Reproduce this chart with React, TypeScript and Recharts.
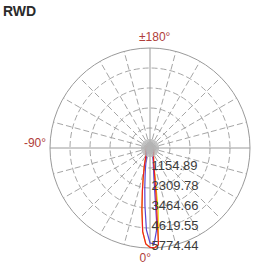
import React from 'react';
import { RadarChart, Radar, PolarGrid, PolarAngleAxis, PolarRadiusAxis } from 'recharts';

const title = 'RWD';
// gamma angles (degrees), 0° = downward, 2.5° step
const angles: number[] = Array.from({ length: 144 }, (_, i) => -180 + i * 2.5);

// intensities (cd), -180 .. 177.5 step 2.5
const redValues = [
  115, 118, 121, 121, 124, 127, 130, 130, 133, 136, 139, 142,
  144, 147, 150, 153, 156, 159, 162, 165, 168, 171, 173, 176,
  179, 182, 185, 188, 191, 196, 199, 202, 205, 208, 214, 220,
  225, 231, 237, 243, 248, 254, 260, 266, 272, 277, 283, 289,
  300, 312, 323, 335, 346, 358, 375, 392, 410, 427, 450, 485,
  520, 600, 693, 866, 1097, 1386, 1848, 2541, 3580, 4850, 5540, 5740,
  5774, 5600, 2598, 1501, 1039, 808, 693, 606, 520, 475, 440, 410,
  390, 370, 352, 335, 318, 300, 289, 278, 266, 254, 243, 237,
  231, 225, 220, 214, 208, 202, 199, 196, 191, 188, 185, 182,
  179, 176, 173, 170, 167, 164, 161, 158, 156, 153, 150, 147,
  144, 142, 139, 136, 133, 130, 130, 127, 124, 124, 121, 121,
  118, 118, 118, 115, 115, 115, 115, 115, 115, 115, 115, 115,
];

const blueValues = [
  104, 104, 107, 107, 110, 113, 113, 116, 118, 121, 124, 127,
  130, 133, 136, 139, 142, 144, 147, 150, 153, 156, 159, 162,
  165, 168, 170, 173, 176, 179, 182, 185, 188, 191, 194, 199,
  202, 208, 214, 220, 225, 231, 237, 243, 248, 254, 260, 266,
  266, 272, 280, 289, 300, 306, 318, 329, 341, 352, 364, 381,
  404, 462, 520, 635, 751, 924, 1213, 1617, 2310, 3349, 4735, 5486,
  5543, 4619, 1732, 1155, 866, 693, 577, 520, 462, 433, 404, 381,
  358, 341, 323, 312, 300, 289, 277, 266, 254, 243, 237, 231,
  225, 220, 214, 208, 202, 196, 191, 188, 185, 182, 179, 176,
  173, 170, 167, 164, 161, 158, 156, 153, 150, 147, 144, 142,
  139, 136, 133, 130, 127, 124, 121, 118, 116, 113, 113, 110,
  110, 107, 107, 107, 104, 104, 104, 104, 104, 104, 104, 104,
];

const yellowValues = [
  115, 118, 121, 121, 124, 127, 130, 130, 133, 136, 139, 142,
  144, 147, 150, 153, 156, 159, 162, 165, 168, 171, 173, 176,
  179, 182, 185, 188, 191, 196, 199, 202, 205, 208, 214, 220,
  225, 231, 237, 243, 248, 254, 260, 266, 272, 277, 283, 289,
  300, 312, 323, 335, 346, 358, 375, 392, 410, 427, 450, 485,
  520, 600, 693, 866, 1097, 1386, 1848, 2541, 3580, 4850, 5540, 5740,
  5774, 5600, 3580, 1732, 1039, 808, 693, 606, 520, 475, 440, 410,
  390, 370, 352, 335, 318, 300, 289, 278, 266, 254, 243, 237,
  231, 225, 220, 214, 208, 202, 199, 196, 191, 188, 185, 182,
  179, 176, 173, 170, 167, 164, 161, 158, 156, 153, 150, 147,
  144, 142, 139, 136, 133, 130, 130, 127, 124, 124, 121, 121,
  118, 118, 118, 115, 115, 115, 115, 115, 115, 115, 115, 115,
];

const radiusTicks = [1154.89, 2309.78, 3464.66, 4619.55, 5774.44];
const angleLabels: Record<string, string> = { '-180': '±180°', '-90': '-90°', '0': '0°' };

const dashedAngles = [15, 30, 45, 60, 75, 105, 120, 135, 150, 165, 195, 210, 225, 240, 255, 285, 300, 315, 330, 345];
const solidAngles = [0, 90, 180, 270];
const starAngles: number[] = Array.from({ length: 72 }, (_, i) => i * 5);

const data = angles.map((a, i) => ({
  angle: a,
  red: redValues[i],
  blue: blueValues[i],
  yellow: yellowValues[i],
}));

const FONT = '"Liberation Sans", Arial, sans-serif';

const AngleTick = (props: any) => {
  const { x, y, payload } = props;
  const label = angleLabels[String(payload.value)];
  if (!label) return <g />;
  const v = Number(payload.value);
  let tx = x;
  let ty = y;
  let anchor: 'middle' | 'start' | 'end' = 'middle';
  if (v === -180) { ty = y - 3; }
  else if (v === -90) { tx = x + 4; anchor = 'end'; }
  else if (v === 0) { ty = y + 2; }
  return (
    <text x={tx} y={ty} textAnchor={anchor} dominantBaseline="central" fontSize={12} fill="#b03e3a" fontFamily={FONT}>
      {label}
    </text>
  );
};

const RadiusTick = (props: any) => {
  const { x, y, payload } = props;
  return (
    <text x={x + 1.5} y={y - 2.5} textAnchor="start" dominantBaseline="central" fontSize={13} fill="#3c3c3c" fontFamily={FONT}>
      {Number(payload.value).toFixed(2)}
    </text>
  );
};

export default function App() {
  const W = 256;
  const H = 269;
  const cx = 150;
  const cy = 148;
  return (
    <div style={{ position: 'absolute', left: 0, top: 0, width: W, height: H, background: '#fff' }}>
      <div style={{ position: 'absolute', left: 3, top: 3, fontFamily: FONT, fontWeight: 'bold', fontSize: 14, color: '#2a2a2a', lineHeight: '17px' }}>
        {title}
      </div>
      <div style={{ position: 'absolute', left: 0, top: 0 }}>
        <RadarChart width={W} height={H} data={data} cx={cx} cy={cy} outerRadius={100} startAngle={90} endAngle={450} margin={{ top: 0, right: 0, bottom: 0, left: 0 }}>
          <PolarGrid gridType="circle" polarRadius={[20, 40, 60, 80]} polarAngles={dashedAngles} stroke="#a6a6a6" strokeDasharray="6 3" strokeWidth={1} />
          <PolarGrid gridType="circle" polarRadius={[100]} polarAngles={solidAngles} stroke="#9a9a9a" strokeWidth={1} />
          <PolarAngleAxis dataKey="angle" axisLine={false} tickLine={false} tick={<AngleTick />} />
          <PolarRadiusAxis angle={-90} domain={[0, 5774.44]} ticks={radiusTicks} axisLine={false} tickLine={false} tick={<RadiusTick />} />
          <Radar name="Cmax" dataKey="yellow" stroke="#eedd00" strokeWidth={1.2} fill="none" fillOpacity={0} dot={false} isAnimationActive={false} />
          <Radar name="C90-C270" dataKey="blue" stroke="#5b45d0" strokeWidth={1.2} fill="none" fillOpacity={0} dot={false} isAnimationActive={false} />
          <Radar name="C0-C180" dataKey="red" stroke="#ee1c25" strokeWidth={1.2} fill="none" fillOpacity={0} dot={false} isAnimationActive={false} />
        </RadarChart>
      </div>
      <div style={{ position: 'absolute', left: 0, top: 0, pointerEvents: 'none' }}>
        <RadarChart width={W} height={H} data={data} cx={cx} cy={cy} outerRadius={9} startAngle={90} endAngle={450} margin={{ top: 0, right: 0, bottom: 0, left: 0 }}>
          <PolarGrid gridType="circle" polarRadius={[]} polarAngles={starAngles} stroke="#b4b4b4" strokeWidth={0.8} />
          <PolarAngleAxis dataKey="angle" axisLine={false} tickLine={false} tick={false} />
        </RadarChart>
      </div>
    </div>
  );
}
